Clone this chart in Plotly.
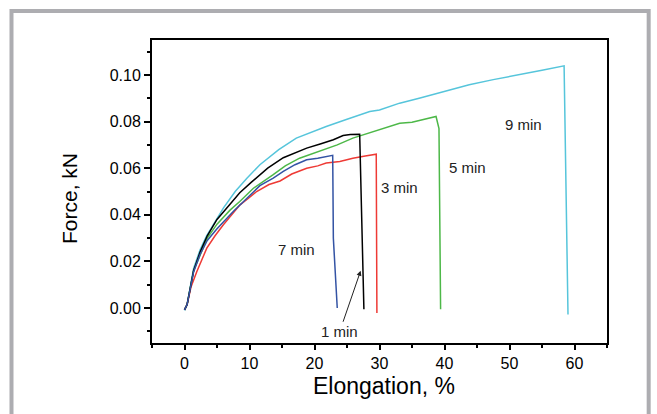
import plotly.graph_objects as go

# ---- data ----
x_1min = [0, 0.4, 1.4, 2.4, 3.5, 5, 7, 8.5, 10.3, 12.8, 15.2, 17.7, 18.8, 21, 22.9, 24.4, 25.5, 26.95, 27.6]
y_1min = [-0.0008, 0.0015, 0.016, 0.024, 0.031, 0.038, 0.0445, 0.0495, 0.054, 0.060, 0.0645, 0.0672, 0.0686, 0.0705, 0.0722, 0.0740, 0.0745, 0.0746, -0.0005]

x_3min = [0, 0.4, 1.0, 1.9, 3.43, 4.7, 5.98, 7.2, 8.54, 9.8, 11.1, 13, 14.7, 16.5, 18.8, 20.5, 21.8, 23.9, 25.9, 27.8, 29.5, 29.6]
y_3min = [-0.0008, 0.0015, 0.009, 0.0157, 0.0257, 0.031, 0.0357, 0.040, 0.0443, 0.047, 0.050, 0.053, 0.0545, 0.0575, 0.060, 0.061, 0.0622, 0.0629, 0.0643, 0.0652, 0.0660, -0.0021]

x_5min = [0, 0.4, 1.4, 2.4, 3.5, 5, 7, 8.5, 10.6, 13.65, 15.5, 17.7, 20.8, 23.5, 25.9, 29, 31, 33.1, 35, 36.8, 38.7, 39.15, 39.4]
y_5min = [-0.0008, 0.0015, 0.016, 0.023, 0.030, 0.036, 0.042, 0.0457, 0.0514, 0.0572, 0.061, 0.0643, 0.0672, 0.070, 0.0729, 0.0757, 0.0772, 0.0793, 0.0797, 0.081, 0.0822, 0.077, -0.0005]

x_7min = [0, 0.4, 1.4, 2.4, 3.5, 5, 7.5, 10.1, 11.6, 13.65, 15.2, 17, 18.8, 20.5, 22.8, 22.9, 23.5]
y_7min = [-0.0008, 0.0015, 0.0155, 0.023, 0.029, 0.034, 0.0414, 0.0486, 0.0525, 0.0557, 0.0586, 0.0615, 0.0636, 0.0643, 0.0655, 0.030, 0.0]

x_9min = [0, 0.4, 1.4, 2.4, 3.4, 4.7, 6, 7.8, 9.6, 11.6, 14.5, 17.2, 19.5, 21.8, 25, 28.5, 30, 33.1, 36.1, 40, 43.8, 47.5, 51.5, 55, 58.4, 59.0]
y_9min = [-0.001, 0.0015, 0.017, 0.025, 0.031, 0.037, 0.043, 0.050, 0.0557, 0.0615, 0.068, 0.0729, 0.0755, 0.0779, 0.081, 0.0843, 0.085, 0.0879, 0.0900, 0.093, 0.0958, 0.098, 0.1003, 0.102, 0.1039, -0.0028]

series = [
    ("9 min", x_9min, y_9min, "#56c5db"),
    ("5 min", x_5min, y_5min, "#4db848"),
    ("3 min", x_3min, y_3min, "#ee3a35"),
    ("1 min", x_1min, y_1min, "#000000"),
    ("7 min", x_7min, y_7min, "#3353a4"),
]

labels = ["9 min", "5 min", "3 min", "7 min"]
label_x = [52.2, 43.5, 33.1, 17.2]
label_y = [0.0789, 0.0603, 0.0517, 0.0250]

x_ticks = [0, 10, 20, 30, 40, 50, 60]
y_ticks = [0.00, 0.02, 0.04, 0.06, 0.08, 0.10]

fig = go.Figure()
for name, xs, ys, col in series:
    fig.add_trace(go.Scatter(x=xs, y=ys, mode="lines", name=name,
                             line=dict(color=col, width=1.5), showlegend=False,
                             hoverinfo="skip"))

font_family = "Liberation Sans, Arial, sans-serif"
annos = []
for t, ax_, ay_ in zip(labels, label_x, label_y):
    annos.append(dict(x=ax_, y=ay_, xref="x", yref="y", text=t, showarrow=False,
                      font=dict(family=font_family, size=15, color="#222222")))
annos.append(dict(x=27.1, y=0.016, xref="x", yref="y", text="1 min", showarrow=True,
                  ax=-21, ay=61, arrowhead=2, arrowsize=1, arrowwidth=1,
                  arrowcolor="#222222", standoff=0,
                  font=dict(family=font_family, size=15, color="#222222")))
annos.append(dict(x=0.5099, y=-0.142, xref="paper", yref="paper", text="Elongation, %",
                  showarrow=False, xanchor="center", yanchor="middle",
                  font=dict(family=font_family, size=23, color="#000000")))
annos.append(dict(x=-0.1813, y=0.4769, xref="paper", yref="paper", text="Force, kN",
                  showarrow=False, xanchor="center", yanchor="middle", textangle=-90,
                  font=dict(family=font_family, size=21, color="#000000")))

fig.update_layout(
    width=657, height=414,
    margin=dict(l=152, r=50, t=40, b=71),
    paper_bgcolor="white", plot_bgcolor="white",
    font=dict(family=font_family, color="#000000"),
    annotations=annos,
    shapes=[dict(type="rect", xref="paper", yref="paper",
                 x0=-0.3088, x1=1.0916, y0=-0.3, y1=1.0957,
                 line=dict(color="#adadb1", width=4), layer="below")],
)
fig.update_xaxes(range=[-5, 65], showgrid=False, zeroline=False,
                 showline=True, linecolor="black", linewidth=2, mirror=True,
                 tickmode="array", tickvals=x_ticks, ticktext=[str(v) for v in x_ticks],
                 ticks="outside", ticklen=5, tickwidth=2, tickcolor="black",
                 tickfont=dict(size=16, family=font_family, color="#000000"),
                 minor=dict(dtick=5, tick0=0, ticks="outside", ticklen=3, tickwidth=2, tickcolor="black"))
fig.update_yaxes(range=[-0.015, 0.115], showgrid=False, zeroline=False,
                 showline=True, linecolor="black", linewidth=2, mirror=True,
                 tickmode="array", tickvals=y_ticks, ticktext=[f"{v:.2f}" for v in y_ticks],
                 ticks="outside", ticklen=6, tickwidth=2, tickcolor="black",
                 tickfont=dict(size=16, family=font_family, color="#000000"),
                 minor=dict(dtick=0.01, tick0=0, ticks="outside", ticklen=3, tickwidth=2, tickcolor="black"))

fig.write_html("out.html", config={"displayModeBar": False},
               post_script="document.body.style.margin='0';document.body.style.overflow='hidden';")
